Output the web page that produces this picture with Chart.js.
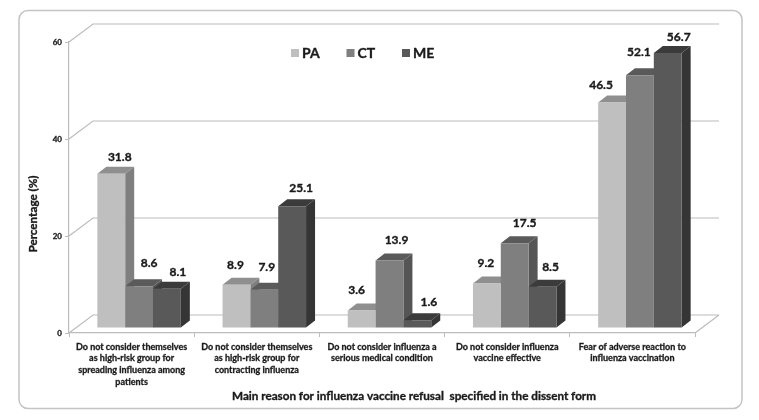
<!DOCTYPE html>
<html>
<head>
<meta charset="utf-8">
<script src="https://cdn.jsdelivr.net/npm/chart.js@4"></script>
<style>
  html, body { margin: 0; padding: 0; background: #fff; }
  canvas { display: block; }
</style>
</head>
<body>
<canvas id="chart" width="759" height="420"></canvas>
<script>
// Data
const categories = [
    ['Do not consider themselves', 'as high-risk group for', 'spreading influenza among', 'patients'],
    ['Do not consider themselves', 'as high-risk group for', 'contracting influenza'],
    ['Do not consider influenza a', 'serious medical condition'],
    ['Do not consider influenza', 'vaccine effective'],
    ['Fear of adverse reaction to', 'influenza vaccination']
];
const seriesNames = ['PA', 'CT', 'ME'];
const paValues = [31.8, 8.9, 3.6, 9.2, 46.5];
const ctValues = [8.6, 7.9, 13.9, 17.5, 52.1];
const meValues = [8.1, 25.1, 1.6, 8.5, 56.7];
const yTicks = [0, 20, 40, 60];
const yTitle = 'Percentage (%)';
const xTitle = 'Main reason for influenza vaccine refusal  specified in the dissent form';

// Face colours per series
const frontColors = ['#bfbfbf', '#7f7f7f', '#595959'];
const topColors = ['#8f8f8f', '#5a5a5a', '#3b3b3b'];
const sideColors = ['#7f7f7f', '#555555', '#353535'];

// Where each value label sits relative to the top of its bar (they are hand placed in the original)
const labelOffsets = [
    [[8.5, -17], [-1, -20], [-5, -20], [-1, -20], [-11, -17.5]],
    [[10, -23], [2.5, -23], [7, -20], [10, -20], [-1, -23]],
    [[11, -17], [9, -18], [11.5, -18], [8, -20], [11, -16]]
];

const WALL_COLOR = '#bcbcbc';
const TEXT_COLOR = '#1a1a1a';
const LABEL_FONT = 'Lato, sans-serif';

// Depth of the 3D box and of the bars
const wallDx = 24, wallDy = -18;
const barShiftX = 7.5, barShiftY = -5;
const depthX = 9, depthY = -7;

// Lato bold is lighter than the original face, a thin outline makes up for it
function heavyText(ctx, text, x, y) {
    ctx.strokeStyle = TEXT_COLOR;
    ctx.lineWidth = 0.35;
    ctx.strokeText(text, x, y);
    ctx.fillText(text, x, y);
}

const box3d = {
    id: 'box3d',
    beforeDraw(chart) {
        const ctx = chart.ctx;
        ctx.save();
        ctx.strokeStyle = '#c4c4c4';
        ctx.lineWidth = 1.5;
        ctx.beginPath();
        ctx.roundRect(19, 10.5, 723, 398, 9);
        ctx.stroke();
        ctx.restore();
    },
    beforeDatasetsDraw(chart) {
        const ctx = chart.ctx;
        const { left, right, bottom } = chart.chartArea;
        const yScale = chart.scales.y;

        // walls and floor
        ctx.save();
        ctx.strokeStyle = WALL_COLOR;
        ctx.lineWidth = 1.2;
        ctx.beginPath();
        yTicks.forEach(t => {
            const y = yScale.getPixelForValue(t);
            ctx.moveTo(left, y);
            ctx.lineTo(left + wallDx, y + wallDy);
            ctx.lineTo(right + wallDx, y + wallDy);
        });
        ctx.moveTo(right, bottom);
        ctx.lineTo(right + wallDx, bottom + wallDy);
        ctx.stroke();
        ctx.restore();

        // bars are shifted off the front edge; restored in afterDatasetsDraw
        ctx.save();
        ctx.translate(barShiftX, barShiftY);
        categories.forEach((_, c) => {
            chart.data.datasets.forEach((ds, s) => {
                const bar = chart.getDatasetMeta(s).data[c];
                const x0 = bar.x - bar.width / 2, x1 = bar.x + bar.width / 2;
                ctx.fillStyle = sideColors[s];
                ctx.beginPath();
                ctx.moveTo(x1, bar.y);
                ctx.lineTo(x1 + depthX, bar.y + depthY);
                ctx.lineTo(x1 + depthX, bar.base + depthY);
                ctx.lineTo(x1, bar.base);
                ctx.closePath();
                ctx.fill();
                ctx.fillStyle = topColors[s];
                ctx.beginPath();
                ctx.moveTo(x0, bar.y);
                ctx.lineTo(x0 + depthX, bar.y + depthY);
                ctx.lineTo(x1 + depthX, bar.y + depthY);
                ctx.lineTo(x1, bar.y);
                ctx.closePath();
                ctx.fill();
            });
        });
    },
    afterDatasetsDraw(chart) {
        const ctx = chart.ctx;
        ctx.restore();

        // value labels
        ctx.save();
        ctx.fillStyle = TEXT_COLOR;
        ctx.textAlign = 'center';
        ctx.textBaseline = 'middle';
        ctx.font = 'bold 12px ' + LABEL_FONT;
        chart.data.datasets.forEach((ds, s) => {
            chart.getDatasetMeta(s).data.forEach((bar, c) => {
                const off = labelOffsets[s][c];
                heavyText(ctx, ds.data[c].toFixed(1), bar.x + barShiftX + off[0], bar.y + barShiftY + off[1]);
            });
        });

        // legend
        ctx.font = 'bold 14px ' + LABEL_FONT;
        ctx.textAlign = 'left';
        seriesNames.forEach((name, s) => {
            const x = 291 + s * 55.5;
            ctx.fillStyle = frontColors[s];
            ctx.fillRect(x, 49, 8, 8);
            ctx.fillStyle = TEXT_COLOR;
            heavyText(ctx, name, x + 11, 53);
        });

        // axis titles
        ctx.font = 'bold 11.7px ' + LABEL_FONT;
        ctx.textAlign = 'center';
        heavyText(ctx, xTitle, 414, 396);
        ctx.translate(33, 214);
        ctx.rotate(-Math.PI / 2);
        heavyText(ctx, yTitle, 0, 0);
        ctx.restore();
    }
};

new Chart(document.getElementById('chart'), {
    type: 'bar',
    data: {
        labels: categories,
        datasets: [
            { label: seriesNames[0], data: paValues, backgroundColor: frontColors[0] },
            { label: seriesNames[1], data: ctValues, backgroundColor: frontColors[1] },
            { label: seriesNames[2], data: meValues, backgroundColor: frontColors[2] }
        ]
    },
    options: {
        responsive: false,
        animation: false,
        events: [],
        layout: { padding: { left: 30, right: 64, top: 42, bottom: 0 } },
        datasets: { bar: { barPercentage: 1, categoryPercentage: 0.667, clip: false } },
        plugins: { legend: { display: false }, tooltip: { enabled: false } },
        scales: {
            x: {
                grid: { drawOnChartArea: false, color: WALL_COLOR, tickLength: 4 },
                border: { color: WALL_COLOR, width: 1.2 },
                ticks: {
                    autoSkip: false, maxRotation: 0, color: TEXT_COLOR, padding: 4,
                    textStrokeColor: TEXT_COLOR, textStrokeWidth: 0.3,
                    font: { family: LABEL_FONT, weight: 'bold', size: 9, lineHeight: 1.3 }
                },
                afterFit(scale) { scale.height = 87; }
            },
            y: {
                min: 0, max: 60,
                afterBuildTicks(scale) { scale.ticks = yTicks.map(v => ({ value: v })); },
                grid: { drawOnChartArea: false, color: WALL_COLOR, tickLength: 4 },
                border: { color: WALL_COLOR, width: 1.2 },
                ticks: {
                    color: TEXT_COLOR, padding: 3,
                    textStrokeColor: TEXT_COLOR, textStrokeWidth: 0.3,
                    font: { family: LABEL_FONT, weight: 'bold', size: 8 }
                },
                afterFit(scale) { scale.width = 39; }
            }
        }
    },
    plugins: [box3d]
});
</script>
</body>
</html>
